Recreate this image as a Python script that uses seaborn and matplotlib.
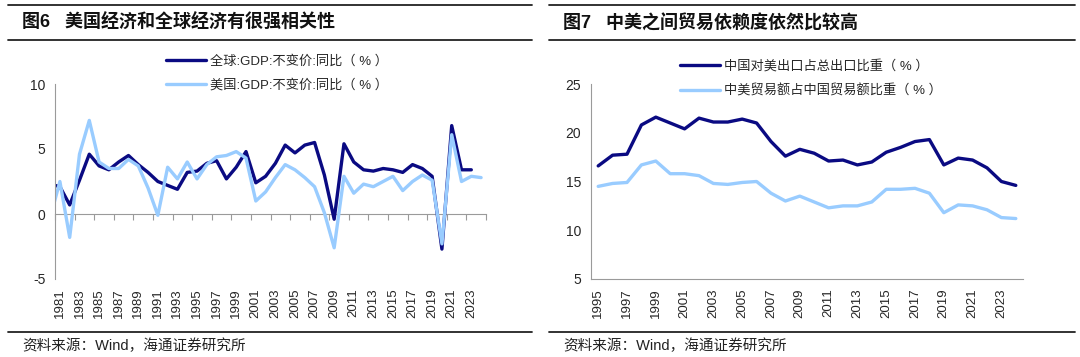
import numpy as np
import pandas as pd
import matplotlib
matplotlib.use('Agg')
import matplotlib.pyplot as plt
import seaborn as sns
from matplotlib.lines import Line2D

# 图6 数据
years_gdp = list(range(1980, 2025))
world_gdp = [2.3, 2.1, 0.7, 2.6, 4.6, 3.7, 3.4, 4.0, 4.5, 3.8, 3.2, 2.5, 2.2, 1.9, 3.2,
             3.3, 3.9, 4.1, 2.7, 3.6, 4.8, 2.4, 2.9, 3.9, 5.3, 4.7, 5.3, 5.5, 3.0, -0.4,
             5.4, 4.0, 3.4, 3.3, 3.5, 3.4, 3.2, 3.8, 3.5, 2.9, -2.7, 6.8, 3.4, 3.4, np.nan]
us_gdp = [-0.3, 2.5, -1.8, 4.6, 7.2, 4.0, 3.5, 3.5, 4.2, 3.7, 2.0, -0.1, 3.6, 2.7, 4.0,
          2.7, 3.8, 4.4, 4.5, 4.8, 4.3, 1.0, 1.7, 2.8, 3.8, 3.4, 2.8, 2.1, 0.1, -2.6,
          2.9, 1.6, 2.3, 2.1, 2.5, 2.9, 1.8, 2.5, 3.0, 2.6, -2.3, 6.1, 2.5, 2.9, 2.8]
gdp_labels = ['全球:GDP:不变价:同比（ % ）', '美国:GDP:不变价:同比（ % ）']

# 图7 数据
years_trade = list(range(1995, 2025))
export_share = [16.6, 17.7, 17.8, 20.8, 21.6, 21.0, 20.4, 21.5, 21.1, 21.1, 21.4, 21.0,
                19.1, 17.6, 18.3, 17.9, 17.1, 17.2, 16.7, 17.0, 18.0, 18.5, 19.1, 19.3,
                16.7, 17.4, 17.2, 16.4, 15.0, 14.6]
trade_share = [14.5, 14.8, 14.9, 16.7, 17.1, 15.8, 15.8, 15.6, 14.8, 14.7, 14.9, 15.0,
               13.8, 13.0, 13.5, 12.9, 12.3, 12.5, 12.5, 12.9, 14.2, 14.2, 14.3, 13.8,
               11.8, 12.6, 12.5, 12.1, 11.3, 11.2]
trade_labels = ['中国对美出口占总出口比重（ % ）', '中美贸易额占中国贸易额比重（ % ）']

dark = '#0A0A82'
light = '#99CCFF'

sns.set_style('white')
plt.rcParams['font.family'] = ['Liberation Sans', 'Noto Sans CJK SC', 'DejaVu Sans']
plt.rcParams['axes.unicode_minus'] = False

df_gdp = pd.DataFrame({
    'year': years_gdp * 2,
    'value': world_gdp + us_gdp,
    'series': [gdp_labels[0]] * len(years_gdp) + [gdp_labels[1]] * len(years_gdp),
})
df_trade = pd.DataFrame({
    'year': years_trade * 2,
    'value': export_share + trade_share,
    'series': [trade_labels[0]] * len(years_trade) + [trade_labels[1]] * len(years_trade),
})

fig = plt.figure(figsize=(10.8, 3.57), dpi=100)
W, H = 1080, 357


def fx(px):
    return px / W


def fy(py):
    return 1 - py / H


gray = '#9A9A9A'

# 左图
ax1 = fig.add_axes([fx(55), fy(279), fx(486 - 55), (279 - 84) / H])
sns.lineplot(data=df_gdp, x='year', y='value', hue='series', palette=[dark, light],
             linewidth=2.4, ax=ax1, sort=False)
ax1.set_xlim(1980.5, 2024.5)
ax1.set_ylim(-5, 10)
ax1.set_yticks([-5, 0, 5, 10])
ax1.set_yticklabels(['-5', '0', '5', '10'])
ax1.set_xticks(list(range(1981, 2024, 2)))
ax1.set_xticklabels([str(y) for y in range(1981, 2024, 2)], rotation=90)
ax1.tick_params(axis='x', length=0, pad=7, labelsize=9.5)
ax1.tick_params(axis='y', length=4, width=0.8, color=gray, direction='out', labelsize=10, pad=3)
ax1.spines['top'].set_visible(False)
ax1.spines['right'].set_visible(False)
ax1.spines['bottom'].set_visible(False)
ax1.spines['left'].set_color(gray)
ax1.set_xlabel('')
ax1.set_ylabel('')
# 零轴
sec = ax1.secondary_xaxis(1 / 3)
sec.set_xticks(np.arange(1980.5, 2025, 2))
sec.tick_params(axis='x', direction='out', length=4, width=0.8, color=gray, labelbottom=False, labeltop=False)
sec.spines['bottom'].set_color(gray)
sec.spines['top'].set_color(gray)
ax1.legend(loc='upper left', bbox_to_anchor=(fx(166), fy(55)), bbox_transform=fig.transFigure,
           frameon=False, fontsize=9.5, handlelength=3.0, handletextpad=0.3,
           labelspacing=0.85, borderpad=0, borderaxespad=0)

# 右图
ax2 = fig.add_axes([fx(591), fy(279), fx(1023 - 591), (279 - 84) / H])
sns.lineplot(data=df_trade, x='year', y='value', hue='series', palette=[dark, light],
             linewidth=2.4, ax=ax2, sort=False)
ax2.set_xlim(1994.5, 2024.5)
ax2.set_ylim(5, 25)
ax2.set_yticks([5, 10, 15, 20, 25])
ax2.set_xticks(np.arange(1994.5, 2025, 2), minor=True)
ax2.set_xticks(list(range(1995, 2024, 2)))
ax2.set_xticklabels([str(y) for y in range(1995, 2024, 2)], rotation=90)
ax2.tick_params(axis='x', which='major', length=0, pad=7, labelsize=9.5)
ax2.tick_params(axis='x', which='minor', length=4, width=0.8, color=gray, direction='out')
ax2.tick_params(axis='y', length=4, width=0.8, color=gray, direction='out', labelsize=10, pad=3)
ax2.spines['top'].set_visible(False)
ax2.spines['right'].set_visible(False)
ax2.spines['left'].set_color(gray)
ax2.spines['bottom'].set_color(gray)
ax2.set_xlabel('')
ax2.set_ylabel('')
ax2.legend(loc='upper left', bbox_to_anchor=(fx(680), fy(60)), bbox_transform=fig.transFigure,
           frameon=False, fontsize=9.5, handlelength=3.0, handletextpad=0.3,
           labelspacing=0.85, borderpad=0, borderaxespad=0)

# 标题、横线与来源
for x0, x1, title in [(8, 532, '图6   美国经济和全球经济有很强相关性'),
                      (549, 1075, '图7   中美之间贸易依赖度依然比较高')]:
    for yy in (5, 40, 332):
        fig.add_artist(Line2D([fx(x0), fx(x1)], [fy(yy), fy(yy)], transform=fig.transFigure,
                              color='#222222', linewidth=1.3))
    fig.text(fx(x0 + 14), fy(23), title, fontsize=13, fontweight='bold',
             family=['Liberation Sans', 'Noto Sans CJK SC'], va='center', ha='left', color='#111111')
    fig.text(fx(x0 + 14), fy(346), '资料来源：Wind，海通证券研究所', fontsize=10.5,
             va='center', ha='left', color='#222222')

fig.savefig('out.png', dpi=100)
